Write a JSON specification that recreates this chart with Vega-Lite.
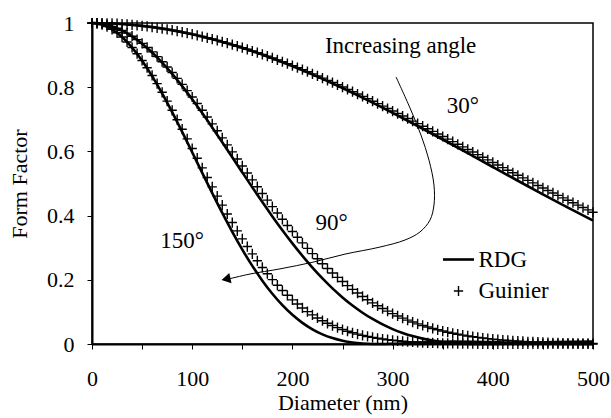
{
  "$schema": "https://vega.github.io/schema/vega-lite/v6.json",
  "width": 501,
  "height": 321,
  "autosize": "none",
  "padding": {"left": 92, "top": 23, "right": 18, "bottom": 74},
  "background": "white",
  "config": {
    "font": "Liberation Serif",
    "view": {"stroke": "black", "strokeWidth": 1.5},
    "axis": {
      "domainColor": "black", "domainWidth": 2, "tickColor": "black", "tickWidth": 1, "tickSize": 5,
      "labelColor": "black", "titleColor": "black", "labelFont": "Liberation Serif", "titleFont": "Liberation Serif",
      "labelFontSize": 22, "titleFontSize": 22, "titleFontWeight": "normal", "grid": false, "labelFlush": false
    }
  },
  "layer": [
    {
      "data": {"values": [
        {"c":"30","d":0,"F":1},{"c":"30","d":25,"F":0.9978},{"c":"30","d":50,"F":0.9911},{"c":"30","d":75,"F":0.9801},{"c":"30","d":100,"F":0.9649},{"c":"30","d":125,"F":0.9457},{"c":"30","d":150,"F":0.9226},{"c":"30","d":175,"F":0.8959},{"c":"30","d":200,"F":0.8659},{"c":"30","d":225,"F":0.8330},{"c":"30","d":250,"F":0.7975},{"c":"30","d":275,"F":0.7598},{"c":"30","d":300,"F":0.7202},{"c":"30","d":325,"F":0.6792},{"c":"30","d":350,"F":0.6371},{"c":"30","d":375,"F":0.5944},{"c":"30","d":400,"F":0.5514},{"c":"30","d":425,"F":0.5086},{"c":"30","d":450,"F":0.4663},{"c":"30","d":475,"F":0.4248},{"c":"30","d":500,"F":0.3844},
        {"c":"90","d":0,"F":1},{"c":"90","d":10,"F":0.9973},{"c":"90","d":20,"F":0.9894},{"c":"90","d":30,"F":0.9763},{"c":"90","d":40,"F":0.9582},{"c":"90","d":50,"F":0.9354},{"c":"90","d":60,"F":0.9081},{"c":"90","d":70,"F":0.8768},{"c":"90","d":80,"F":0.8417},{"c":"90","d":90,"F":0.8035},{"c":"90","d":100,"F":0.7625},{"c":"90","d":110,"F":0.7193},{"c":"90","d":120,"F":0.6744},{"c":"90","d":130,"F":0.6283},{"c":"90","d":140,"F":0.5815},{"c":"90","d":150,"F":0.5345},{"c":"90","d":160,"F":0.4879},{"c":"90","d":170,"F":0.4421},{"c":"90","d":180,"F":0.3975},{"c":"90","d":190,"F":0.3545},{"c":"90","d":200,"F":0.3134},{"c":"90","d":210,"F":0.2746},{"c":"90","d":220,"F":0.2382},{"c":"90","d":230,"F":0.2044},{"c":"90","d":240,"F":0.1734},{"c":"90","d":250,"F":0.1452},{"c":"90","d":260,"F":0.1200},{"c":"90","d":270,"F":0.0975},{"c":"90","d":280,"F":0.0779},{"c":"90","d":290,"F":0.0609},{"c":"90","d":300,"F":0.0465},{"c":"90","d":310,"F":0.0345},{"c":"90","d":320,"F":0.0246},{"c":"90","d":330,"F":0.0168},{"c":"90","d":340,"F":0.0108},{"c":"90","d":350,"F":0.0064},{"c":"90","d":360,"F":0.0033},{"c":"90","d":370,"F":0.0013},{"c":"90","d":380,"F":0.0003},{"c":"90","d":390,"F":0},{"c":"90","d":400,"F":0.0003},{"c":"90","d":420,"F":0.0018},{"c":"90","d":440,"F":0.0039},{"c":"90","d":460,"F":0.0058},{"c":"90","d":480,"F":0.0070},{"c":"90","d":500,"F":0.0074},
        {"c":"150","d":0,"F":1},{"c":"150","d":10,"F":0.9951},{"c":"150","d":20,"F":0.9803},{"c":"150","d":30,"F":0.9562},{"c":"150","d":40,"F":0.9233},{"c":"150","d":50,"F":0.8824},{"c":"150","d":60,"F":0.8345},{"c":"150","d":70,"F":0.7808},{"c":"150","d":80,"F":0.7225},{"c":"150","d":90,"F":0.6609},{"c":"150","d":100,"F":0.5974},{"c":"150","d":110,"F":0.5333},{"c":"150","d":120,"F":0.4699},{"c":"150","d":130,"F":0.4082},{"c":"150","d":140,"F":0.3493},{"c":"150","d":150,"F":0.2941},{"c":"150","d":160,"F":0.2433},{"c":"150","d":170,"F":0.1973},{"c":"150","d":180,"F":0.1565},{"c":"150","d":190,"F":0.1211},{"c":"150","d":200,"F":0.0909},{"c":"150","d":210,"F":0.0659},{"c":"150","d":220,"F":0.0458},{"c":"150","d":230,"F":0.0301},{"c":"150","d":240,"F":0.0184},{"c":"150","d":250,"F":0.0101},{"c":"150","d":260,"F":0.0046},{"c":"150","d":270,"F":0.0015},{"c":"150","d":280,"F":0.0002},{"c":"150","d":290,"F":0.0001},{"c":"150","d":300,"F":0.0009},{"c":"150","d":320,"F":0.0036},{"c":"150","d":340,"F":0.0061},{"c":"150","d":360,"F":0.0074},{"c":"150","d":380,"F":0.0071},{"c":"150","d":400,"F":0.0057},{"c":"150","d":420,"F":0.0038},{"c":"150","d":440,"F":0.0020},{"c":"150","d":460,"F":0.0007},{"c":"150","d":480,"F":0.0001},{"c":"150","d":500,"F":0.0001}
      ]},
      "mark": {"type": "line", "interpolate": "monotone", "color": "black", "strokeWidth": 2.6},
      "encoding": {
        "x": {"field": "d", "type": "quantitative", "scale": {"domain": [0, 500], "nice": false},
              "axis": {"title": "Diameter (nm)", "values": [0,50,100,150,200,250,300,350,400,450,500], "labelExpr": "datum.value % 100 == 0 ? datum.label : ''", "labelPadding": 19, "titlePadding": 3}},
        "y": {"field": "F", "type": "quantitative", "scale": {"domain": [0, 1], "nice": false},
              "axis": {"title": "Form Factor", "values": [0,0.1,0.2,0.3,0.4,0.5,0.6,0.7,0.8,0.9,1], "format": "~g", "labelExpr": "round(datum.value*10) % 2 == 0 ? datum.label : ''", "labelPadding": 13, "titlePadding": 15}},
        "detail": {"field": "c"}
      }
    },
    {
      "data": {"values": [
        {"d":0,"g30":1,"g90":1,"g150":1},{"d":5,"g30":0.9999,"g90":0.9993,"g150":0.9988},{"d":10,"g30":0.9996,"g90":0.9974,"g150":0.9951},{"d":15,"g30":0.9992,"g90":0.9941,"g150":0.9889},{"d":20,"g30":0.9986,"g90":0.9896,"g150":0.9804},{"d":25,"g30":0.9978,"g90":0.9838,"g150":0.9695},{"d":30,"g30":0.9968,"g90":0.9767,"g150":0.9563},{"d":35,"g30":0.9956,"g90":0.9684,"g150":0.9410},{"d":40,"g30":0.9943,"g90":0.9589,"g150":0.9237},{"d":45,"g30":0.9928,"g90":0.9483,"g150":0.9044},
        {"d":50,"g30":0.9911,"g90":0.9366,"g150":0.8834},{"d":55,"g30":0.9893,"g90":0.9238,"g150":0.8607},{"d":60,"g30":0.9873,"g90":0.9100,"g150":0.8365},{"d":65,"g30":0.9851,"g90":0.8952,"g150":0.8110},{"d":70,"g30":0.9827,"g90":0.8795,"g150":0.7842},{"d":75,"g30":0.9802,"g90":0.8630,"g150":0.7565},{"d":80,"g30":0.9775,"g90":0.8456,"g150":0.7280},{"d":85,"g30":0.9746,"g90":0.8275,"g150":0.6988},{"d":90,"g30":0.9716,"g90":0.8088,"g150":0.6691},{"d":95,"g30":0.9684,"g90":0.7894,"g150":0.6391},
        {"d":100,"g30":0.9650,"g90":0.7695,"g150":0.6090},{"d":105,"g30":0.9615,"g90":0.7491,"g150":0.5788},{"d":110,"g30":0.9578,"g90":0.7283,"g150":0.5487},{"d":115,"g30":0.9540,"g90":0.7072,"g150":0.5189},{"d":120,"g30":0.9500,"g90":0.6858,"g150":0.4896},{"d":125,"g30":0.9459,"g90":0.6641,"g150":0.4607},{"d":130,"g30":0.9416,"g90":0.6422,"g150":0.4325},{"d":135,"g30":0.9371,"g90":0.6203,"g150":0.4050},{"d":140,"g30":0.9326,"g90":0.5984,"g150":0.3783},{"d":145,"g30":0.9278,"g90":0.5765,"g150":0.3524},
        {"d":150,"g30":0.9230,"g90":0.5546,"g150":0.3276},{"d":155,"g30":0.9180,"g90":0.5329,"g150":0.3037},{"d":160,"g30":0.9128,"g90":0.5113,"g150":0.2809},{"d":165,"g30":0.9076,"g90":0.4900,"g150":0.2592},{"d":170,"g30":0.9022,"g90":0.4690,"g150":0.2385},{"d":175,"g30":0.8967,"g90":0.4483,"g150":0.2189},{"d":180,"g30":0.8910,"g90":0.4279,"g150":0.2005},{"d":185,"g30":0.8852,"g90":0.4079,"g150":0.1832},{"d":190,"g30":0.8793,"g90":0.3884,"g150":0.1669},{"d":195,"g30":0.8733,"g90":0.3692,"g150":0.1517},
        {"d":200,"g30":0.8672,"g90":0.3506,"g150":0.1375},{"d":205,"g30":0.8610,"g90":0.3325,"g150":0.1244},{"d":210,"g30":0.8546,"g90":0.3149,"g150":0.1122},{"d":215,"g30":0.8482,"g90":0.2979,"g150":0.1010},{"d":220,"g30":0.8416,"g90":0.2814,"g150":0.0907},{"d":225,"g30":0.8350,"g90":0.2655,"g150":0.0812},{"d":230,"g30":0.8283,"g90":0.2501,"g150":0.0725},{"d":235,"g30":0.8214,"g90":0.2353,"g150":0.0646},{"d":240,"g30":0.8145,"g90":0.2211,"g150":0.0574},{"d":245,"g30":0.8075,"g90":0.2075,"g150":0.0509},
        {"d":250,"g30":0.8004,"g90":0.1945,"g150":0.0450},{"d":255,"g30":0.7933,"g90":0.1820,"g150":0.0397},{"d":260,"g30":0.7860,"g90":0.1702,"g150":0.0350},{"d":265,"g30":0.7787,"g90":0.1588,"g150":0.0307},{"d":270,"g30":0.7713,"g90":0.1481,"g150":0.0269},{"d":275,"g30":0.7639,"g90":0.1379,"g150":0.0235},{"d":280,"g30":0.7564,"g90":0.1282,"g150":0.0205},{"d":285,"g30":0.7488,"g90":0.1191,"g150":0.0178},{"d":290,"g30":0.7411,"g90":0.1104,"g150":0.0154},{"d":295,"g30":0.7335,"g90":0.1023,"g150":0.0133},
        {"d":300,"g30":0.7258,"g90":0.0946,"g150":0.0115},{"d":305,"g30":0.7180,"g90":0.0874,"g150":0.0099},{"d":310,"g30":0.7102,"g90":0.0806,"g150":0.0085},{"d":315,"g30":0.7023,"g90":0.0743,"g150":0.0073},{"d":320,"g30":0.6944,"g90":0.0684,"g150":0.0062},{"d":325,"g30":0.6865,"g90":0.0628,"g150":0.0053},{"d":330,"g30":0.6785,"g90":0.0577,"g150":0.0045},{"d":335,"g30":0.6705,"g90":0.0529,"g150":0.0038},{"d":340,"g30":0.6625,"g90":0.0484,"g150":0.0032},{"d":345,"g30":0.6544,"g90":0.0442,"g150":0.0027},
        {"d":350,"g30":0.6464,"g90":0.0404,"g150":0.0023},{"d":355,"g30":0.6383,"g90":0.0368,"g150":0.0019},{"d":360,"g30":0.6303,"g90":0.0335,"g150":0.0016},{"d":365,"g30":0.6222,"g90":0.0305,"g150":0.0014},{"d":370,"g30":0.6141,"g90":0.0277,"g150":0.0011},{"d":375,"g30":0.6060,"g90":0.0251,"g150":0.0009},{"d":380,"g30":0.5979,"g90":0.0227,"g150":0.0008},{"d":385,"g30":0.5898,"g90":0.0206,"g150":0.0006},{"d":390,"g30":0.5817,"g90":0.0186,"g150":0.0005},{"d":395,"g30":0.5736,"g90":0.0168,"g150":0.0004},
        {"d":400,"g30":0.5656,"g90":0.0151,"g150":0.0004},{"d":405,"g30":0.5575,"g90":0.0136,"g150":0.0003},{"d":410,"g30":0.5495,"g90":0.0122,"g150":0.0003},{"d":415,"g30":0.5415,"g90":0.0110,"g150":0.0002},{"d":420,"g30":0.5335,"g90":0.0098,"g150":0.0002},{"d":425,"g30":0.5255,"g90":0.0088,"g150":0.0002},{"d":430,"g30":0.5176,"g90":0.0079,"g150":0.0001},{"d":435,"g30":0.5097,"g90":0.0070,"g150":0.0001},{"d":440,"g30":0.5018,"g90":0.0063,"g150":0.0001},{"d":445,"g30":0.4939,"g90":0.0056,"g150":0.0001},
        {"d":450,"g30":0.4861,"g90":0.0050,"g150":0.0001},{"d":455,"g30":0.4783,"g90":0.0044,"g150":0},{"d":460,"g30":0.4706,"g90":0.0039,"g150":0},{"d":465,"g30":0.4629,"g90":0.0035,"g150":0},{"d":470,"g30":0.4553,"g90":0.0031,"g150":0},{"d":475,"g30":0.4477,"g90":0.0027,"g150":0},{"d":480,"g30":0.4401,"g90":0.0024,"g150":0},{"d":485,"g30":0.4326,"g90":0.0021,"g150":0},{"d":490,"g30":0.4252,"g90":0.0019,"g150":0},{"d":495,"g30":0.4178,"g90":0.0016,"g150":0},
        {"d":500,"g30":0.4104,"g90":0.0014,"g150":0}
      ]},
      "transform": [{"fold": ["g30", "g90", "g150"], "as": ["curve", "F"]}],
      "mark": {"type": "point", "filled": false, "color": "black", "size": 961, "opacity": 1},
      "encoding": {
        "x": {"field": "d", "type": "quantitative"},
        "y": {"field": "F", "type": "quantitative"},
        "shape": {"datum": "Guinier", "type": "nominal",
                  "scale": {"domain": ["RDG", "Guinier"], "range": ["M-1,0L1,0", "M-0.3,0L0.3,0M0,-0.33L0,0.33"]},
                  "legend": {"title": null, "orient": "none", "legendX": 349.5, "legendY": 219.5, "symbolSize": 961, "symbolStrokeColor": "black", "symbolFillColor": "transparent", "labelFont": "Liberation Serif", "labelFontSize": 23, "labelColor": "black", "labelOffset": 3, "rowPadding": 3, "padding": 0}},
        "strokeWidth": {"datum": "Guinier", "type": "ordinal",
                  "scale": {"domain": ["RDG", "Guinier"], "range": [2.6, 1.4]},
                  "legend": {"title": null, "orient": "none", "legendX": 349.5, "legendY": 219.5, "symbolSize": 961, "symbolStrokeColor": "black", "symbolFillColor": "transparent", "labelFont": "Liberation Serif", "labelFontSize": 23, "labelColor": "black", "labelOffset": 3, "rowPadding": 3, "padding": 0}}
      }
    },
    {
      "data": {"values": [
        {"o":1,"d":303.4,"F":0.832},{"o":2,"d":317.4,"F":0.735},{"o":3,"d":328.3,"F":0.651},{"o":4,"d":336.3,"F":0.573},{"o":5,"d":341.3,"F":0.495},{"o":6,"d":341.3,"F":0.433},{"o":7,"d":337.3,"F":0.386},{"o":8,"d":327.3,"F":0.349},{"o":9,"d":312.4,"F":0.324},{"o":10,"d":287.4,"F":0.302},{"o":11,"d":252.5,"F":0.280},{"o":12,"d":220.6,"F":0.255},{"o":13,"d":187.6,"F":0.234},{"o":14,"d":157.7,"F":0.218},{"o":15,"d":135.7,"F":0.202}
      ]},
      "mark": {"type": "line", "interpolate": "catmull-rom", "color": "black", "strokeWidth": 1},
      "encoding": {
        "x": {"field": "d", "type": "quantitative"},
        "y": {"field": "F", "type": "quantitative"},
        "order": {"field": "o"}
      }
    },
    {
      "data": {"values": [{"d": 133.7, "F": 0.202}]},
      "mark": {"type": "point", "shape": "triangle-left", "filled": true, "color": "black", "size": 110, "angle": 348, "opacity": 1},
      "encoding": {
        "x": {"field": "d", "type": "quantitative"},
        "y": {"field": "F", "type": "quantitative"}
      }
    },
    {
      "data": {"values": [
        {"d": 308, "F": 0.928, "t": "Increasing angle"},
        {"d": 370, "F": 0.741, "t": "30°"},
        {"d": 239, "F": 0.377, "t": "90°"},
        {"d": 90, "F": 0.321, "t": "150°"}
      ]},
      "mark": {"type": "text", "font": "Liberation Serif", "fontSize": 23, "align": "center", "baseline": "middle", "color": "black"},
      "encoding": {
        "x": {"field": "d", "type": "quantitative"},
        "y": {"field": "F", "type": "quantitative"},
        "text": {"field": "t"}
      }
    }
  ]
}
